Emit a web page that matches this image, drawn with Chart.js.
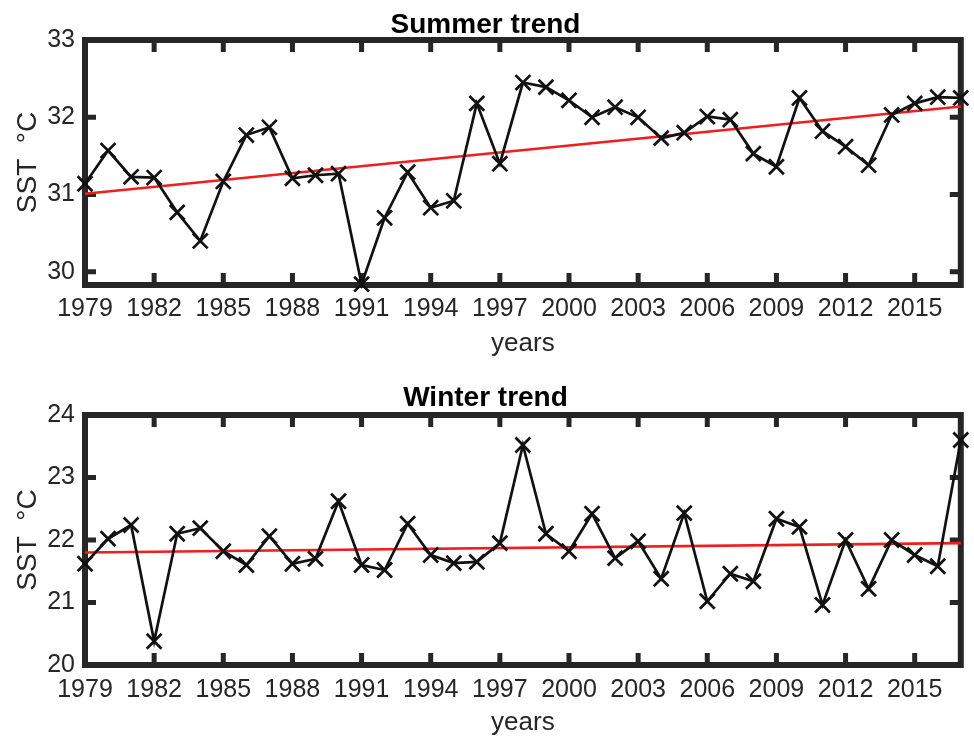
<!DOCTYPE html>
<html>
<head>
<meta charset="utf-8">
<title>Summer and winter SST trends</title>
<script src="https://cdn.jsdelivr.net/npm/chart.js@4.4.1/dist/chart.umd.min.js"></script>
<style>
  html, body { margin: 0; padding: 0; background: #ffffff; }
  #wrap { position: relative; width: 974px; height: 739px; background: #ffffff; }
  #wrap canvas { position: absolute; left: 0; }
  #summerCanvas { top: 0; }
  #winterCanvas { top: 362px; }
</style>
</head>
<body>
<div id="wrap">
  <canvas id="summerCanvas" width="974" height="362"></canvas>
  <canvas id="winterCanvas" width="974" height="377"></canvas>
</div>
<script>
// Years of record
const years = [1979, 1980, 1981, 1982, 1983, 1984, 1985, 1986, 1987, 1988,
               1989, 1990, 1991, 1992, 1993, 1994, 1995, 1996, 1997, 1998,
               1999, 2000, 2001, 2002, 2003, 2004, 2005, 2006, 2007, 2008,
               2009, 2010, 2011, 2012, 2013, 2014, 2015, 2016, 2017];

// Mean summer sea surface temperature (°C)
const summerSST = [31.14, 31.57, 31.23, 31.22, 30.77, 30.40, 31.17, 31.77, 31.87, 31.21,
                   31.25, 31.27, 29.84, 30.70, 31.29, 30.83, 30.92, 32.18, 31.40, 32.45,
                   32.39, 32.22, 32.00, 32.13, 32.00, 31.73, 31.80, 32.01, 31.97, 31.53,
                   31.36, 32.25, 31.82, 31.62, 31.38, 32.03, 32.18, 32.26, 32.25];

// Mean winter sea surface temperature (°C)
const winterSST = [21.62, 22.02, 22.24, 20.38, 22.10, 22.19, 21.82, 21.60, 22.06, 21.62,
                   21.70, 22.62, 21.60, 21.52, 22.26, 21.76, 21.63, 21.65, 21.95, 23.52,
                   22.10, 21.82, 22.42, 21.71, 21.98, 21.38, 22.43, 21.02, 21.46, 21.34,
                   22.34, 22.21, 20.96, 22.00, 21.22, 22.00, 21.76, 21.58, 23.60];

// Linear trend end values (first and last year)
const trendYears = [1979, 2017];
const summerTrend = [31.01, 32.14];
const winterTrend = [21.80, 21.95];

// Axis tick values
const xTicks = [1979, 1982, 1985, 1988, 1991, 1994, 1997, 2000, 2003, 2006, 2009, 2012, 2015];
const summerYTicks = [30, 31, 32, 33];
const winterYTicks = [20, 21, 22, 23, 24];

const FONT = '"Liberation Sans", Arial, Helvetica, sans-serif';
const INK = '#262626';

// Thick box around the plot area with inward ticks on all four sides
const boxFrame = {
  id: 'boxFrame',
  beforeDatasetsDraw(chart) {
    const { ctx, chartArea: a, scales: { x, y } } = chart;
    ctx.save();
    ctx.strokeStyle = INK;
    ctx.lineWidth = 6;
    ctx.strokeRect(a.left, a.top, a.right - a.left, a.bottom - a.top);
    ctx.lineWidth = 5;
    ctx.lineCap = 'butt';
    ctx.beginPath();
    x.ticks.forEach(t => {
      const px = x.getPixelForValue(t.value);
      ctx.moveTo(px, a.top); ctx.lineTo(px, a.top + 12);
      ctx.moveTo(px, a.bottom); ctx.lineTo(px, a.bottom - 12);
    });
    y.ticks.forEach(t => {
      const py = y.getPixelForValue(t.value);
      ctx.moveTo(a.left, py); ctx.lineTo(a.left + 11, py);
      ctx.moveTo(a.right, py); ctx.lineTo(a.right - 11, py);
    });
    ctx.stroke();
    ctx.restore();
  }
};

function makeChart(canvasId, cfg) {
  const series = years.map((yr, i) => ({ x: yr, y: cfg.values[i] }));
  const trend = trendYears.map((yr, i) => ({ x: yr, y: cfg.trend[i] }));
  return new Chart(document.getElementById(canvasId), {
    type: 'line',
    data: {
      datasets: [
        {
          label: 'trend',
          data: trend,
          borderColor: '#f21d1d',
          borderWidth: 2.6,
          pointRadius: 0,
          tension: 0,
          clip: false,
          order: 1
        },
        {
          label: 'SST',
          data: series,
          borderColor: '#111111',
          borderWidth: 2.7,
          pointStyle: 'crossRot',
          pointRadius: 10.5,
          pointBorderWidth: 2.7,
          pointBorderColor: '#111111',
          pointBackgroundColor: '#111111',
          tension: 0,
          clip: false,
          order: 0
        }
      ]
    },
    options: {
      responsive: false,
      animation: false,
      events: [],
      layout: { padding: { left: 0, right: 3, top: 0, bottom: 0 } },
      plugins: {
        legend: { display: false },
        tooltip: { enabled: false },
        title: {
          display: true,
          text: cfg.title,
          color: '#000000',
          font: { family: FONT, size: 28, weight: 'bold', lineHeight: 1 },
          padding: cfg.titlePadding
        }
      },
      scales: {
        x: {
          type: 'linear',
          min: 1979,
          max: 2017,
          grid: { display: false, drawTicks: false },
          border: { display: false },
          afterBuildTicks: s => { s.ticks = xTicks.map(v => ({ value: v })); },
          afterFit: s => { s.height = cfg.xAxisHeight; },
          ticks: {
            autoSkip: false,
            maxRotation: 0,
            color: INK,
            padding: cfg.xTickPad,
            font: { family: FONT, size: 25, lineHeight: 1.2 },
            callback: v => String(v)
          },
          title: {
            display: true,
            text: 'years',
            color: INK,
            font: { family: FONT, size: 26, lineHeight: 1.2 },
            padding: { top: 0, bottom: cfg.yearsPad }
          }
        },
        y: {
          type: 'linear',
          min: cfg.yMin,
          max: cfg.yMax,
          grid: { display: false, drawTicks: false },
          border: { display: false },
          afterBuildTicks: s => { s.ticks = cfg.yTicks.map(v => ({ value: v })); },
          afterFit: s => { s.width = 85; },
          ticks: {
            color: INK,
            padding: 10,
            font: { family: FONT, size: 25, lineHeight: 1.2 },
            callback: v => String(v)
          },
          title: {
            display: true,
            text: 'SST  °C',
            color: INK,
            font: { family: FONT, size: 28, lineHeight: 1.2 },
            padding: { top: 11, bottom: 0 }
          }
        }
      }
    },
    plugins: [boxFrame]
  });
}

makeChart('summerCanvas', {
  title: 'Summer trend',
  values: summerSST,
  trend: summerTrend,
  yMin: 29.83,
  yMax: 33,
  yTicks: summerYTicks,
  titlePadding: { top: 11, bottom: 1 },
  xAxisHeight: 77,
  xTickPad: 9,
  yearsPad: 3
});

makeChart('winterCanvas', {
  title: 'Winter trend',
  values: winterSST,
  trend: winterTrend,
  yMin: 20,
  yMax: 24,
  yTicks: winterYTicks,
  titlePadding: { top: 22, bottom: 3 },
  xAxisHeight: 74,
  xTickPad: 10,
  yearsPad: 1
});
</script>
</body>
</html>
